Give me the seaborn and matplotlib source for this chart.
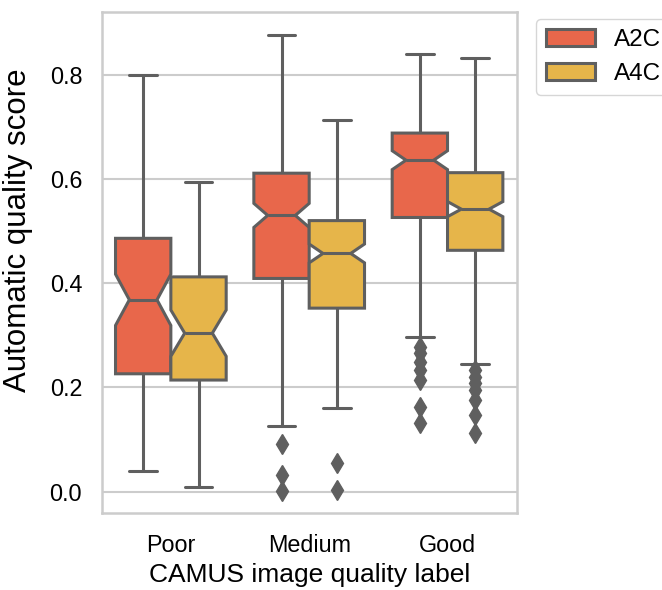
import numpy as np
import pandas as pd
import matplotlib.pyplot as plt
import seaborn as sns

quality = ["Poor", "Medium", "Good"]
views = ["A2C", "A4C"]

# box summaries: lower whisker, Q1, median, Q3, upper whisker
poor_a2c = [0.040, 0.226, 0.368, 0.486, 0.800]
poor_a4c = [0.008, 0.214, 0.304, 0.412, 0.595]
medium_a2c = [0.126, 0.409, 0.530, 0.611, 0.877]
medium_a4c = [0.160, 0.352, 0.457, 0.520, 0.713]
good_a2c = [0.297, 0.526, 0.636, 0.688, 0.839]
good_a4c = [0.245, 0.463, 0.542, 0.612, 0.833]

# outliers (diamonds)
poor_a2c_out = []
poor_a4c_out = []
medium_a2c_out = [0.002, 0.032, 0.091]
medium_a4c_out = [0.003, 0.054]
good_a2c_out = [0.131, 0.163, 0.214, 0.233, 0.249, 0.265, 0.278]
good_a4c_out = [0.112, 0.147, 0.176, 0.195, 0.208, 0.220, 0.233]

# approx. number of cases behind each box (estimated from the notch sizes)
n_poor = [69, 49]
n_medium = [189, 213]
n_good = [197, 261]


def box_sample(stats, outliers, n):
    # values that give back the same quartiles / whiskers / outliers
    lo, q1, med, q3, hi = stats
    k = (n - 1) // 4
    m = len(outliers)
    return list(outliers) + [lo] + [q1] * (k - m) + [med] * k + [q3] * k + [hi] * k


rows = []
table = [
    ("Poor", "A2C", poor_a2c, poor_a2c_out, n_poor[0]),
    ("Poor", "A4C", poor_a4c, poor_a4c_out, n_poor[1]),
    ("Medium", "A2C", medium_a2c, medium_a2c_out, n_medium[0]),
    ("Medium", "A4C", medium_a4c, medium_a4c_out, n_medium[1]),
    ("Good", "A2C", good_a2c, good_a2c_out, n_good[0]),
    ("Good", "A4C", good_a4c, good_a4c_out, n_good[1]),
]
for q, v, stats, out, n in table:
    for s in box_sample(stats, out, n):
        rows.append({"quality": q, "view": v, "score": s})
df = pd.DataFrame(rows)

sns.set_theme(style="whitegrid")
plt.rcParams["font.family"] = ["Liberation Sans", "DejaVu Sans"]
plt.rcParams["axes.edgecolor"] = "#cccccc"
plt.rcParams["axes.linewidth"] = 1.8
plt.rcParams["grid.linewidth"] = 1.5
plt.rcParams["grid.color"] = "#cccccc"
plt.rcParams["text.color"] = "black"
plt.rcParams["axes.labelcolor"] = "black"
plt.rcParams["xtick.color"] = "black"
plt.rcParams["ytick.color"] = "black"

fig = plt.figure(figsize=(6.62, 5.9), dpi=100)
ax = fig.add_axes([0.1536, 0.130, 0.6269, 0.850])

line_gray = "#5f5f5f"
sns.boxplot(
    data=df, x="quality", y="score", hue="view",
    order=quality, hue_order=views,
    palette=["#E8674B", "#E6B54A"], saturation=1,
    notch=True, width=0.8, linewidth=2.2, linecolor=line_gray,
    fliersize=10,
    flierprops=dict(marker="d", markerfacecolor=line_gray, markeredgecolor=line_gray),
    ax=ax,
)

ax.set_xlabel("CAMUS image quality label", fontsize=19)
ax.set_ylabel("Automatic quality score", fontsize=22.5)
ax.yaxis.set_label_coords(-0.165, 0.565)
ax.tick_params(axis="both", labelsize=16.8, length=0)
ax.tick_params(axis="x", pad=15)
ax.tick_params(axis="y", pad=14)
ax.xaxis.grid(False)

sns.move_legend(ax, "upper left", bbox_to_anchor=(1.03, 1.0), title=None,
                frameon=True, borderaxespad=0.3, fontsize=17.5)

fig.savefig("out.png", dpi=100)
